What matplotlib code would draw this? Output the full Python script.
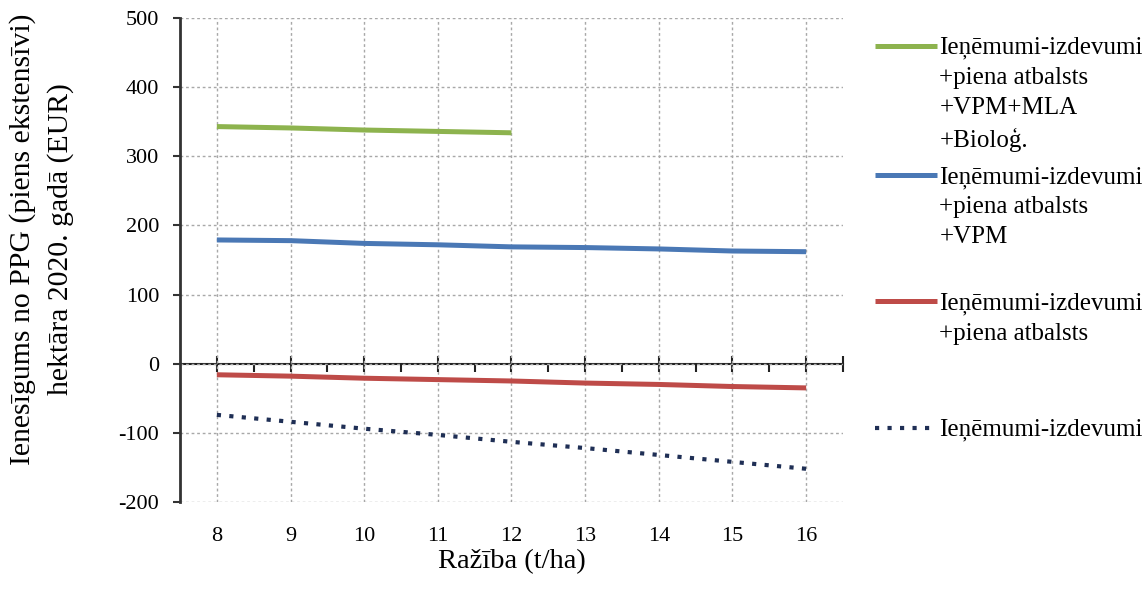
import matplotlib
matplotlib.use("Agg")
import matplotlib.pyplot as plt
from matplotlib.ticker import FixedLocator

# ---- data ----
yield_t = [8, 9, 10, 11, 12, 13, 14, 15, 16]
green_x = [8, 9, 10, 11, 12]
green_vals = [343, 341, 338, 336, 334]
blue_vals = [179, 178, 174, 172, 169, 168, 166, 163, 162]
red_vals = [-16, -18, -21, -23, -25, -28, -30, -33, -35]
dotted_vals = [-74, -84, -94, -103, -113, -122, -132, -142, -152]

labels = [
    "Ieņēmumi-izdevumi\n+piena atbalsts\n+VPM+MLA\n+Bioloģ.",
    "Ieņēmumi-izdevumi\n+piena atbalsts\n+VPM\n ",
    "Ieņēmumi-izdevumi\n+piena atbalsts\n \n ",
    "Ieņēmumi-izdevumi\n \n \n ",
]
y_ticks = [-200, -100, 0, 100, 200, 300, 400, 500]
x_label = "Ražība (t/ha)"
y_label = "Ienesīgums no PPG (piens ekstensīvi)\nhektāra 2020. gadā (EUR)"

plt.rcParams['font.family'] = ['Liberation Serif', 'DejaVu Serif']

fig = plt.figure(figsize=(11.48, 5.93), dpi=100)
ax = fig.add_axes([0.1568, 0.1535, 0.5775, 0.8161])

l1, = ax.plot(green_x, green_vals, color='#8DB34E', lw=3.6, solid_capstyle='butt')
l2, = ax.plot(yield_t, blue_vals, color='#4A78B5', lw=3.6, solid_capstyle='butt')
l3, = ax.plot(yield_t, red_vals, color='#BE4B48', lw=3.6, solid_capstyle='butt')
l4, = ax.plot(yield_t, dotted_vals, color='#1F2F55', lw=3.0, linestyle=(0, (1, 2.0)))

ax.set_xlim(7.5, 16.5)
ax.set_ylim(-200, 500)
ax.set_yticks(y_ticks)
ax.set_yticklabels([str(v) for v in y_ticks], fontsize=16)
ax.set_xticks(yield_t)
ax.set_xticklabels([str(v) for v in yield_t], fontsize=16)
ax.tick_params(axis='x', length=0, pad=18)
ax.tick_params(axis='y', direction='out', length=5, width=1.5, pad=10, color='#333333')

for s in ['top', 'right', 'bottom']:
    ax.spines[s].set_visible(False)
ax.spines['left'].set_linewidth(2.0)
ax.spines['left'].set_color('#333333')

ax.grid(True, color='#a8a8a8', linestyle=(0, (2, 2)), linewidth=1.0)
ax.set_axisbelow(True)

# zero axis with ticks
sec = ax.secondary_xaxis(200 / 700)
sec.spines['bottom'].set_linewidth(1.5)
sec.spines['bottom'].set_color('#222222')
sec.xaxis.set_major_locator(FixedLocator(yield_t + [16.5]))
sec.xaxis.set_minor_locator(FixedLocator([v + 0.5 for v in yield_t[:-1]]))
sec.tick_params(which='major', direction='inout', length=12, width=1.5, labelbottom=False, color='#222222')
sec.tick_params(which='minor', direction='out', length=6, width=1.5, color='#222222')

ax.set_xlabel(x_label, fontsize=20.5)
ax.xaxis.set_label_coords(0.5, -0.124)
ax.xaxis.label.set_va('center')
ax.set_ylabel(y_label, fontsize=21.4, linespacing=1.53)
ax.yaxis.set_label_coords(-0.209, 0.543)
ax.yaxis.label.set_va('center')

leg = ax.legend([l1, l2, l3, l4], labels, loc='upper left',
                bbox_to_anchor=(0.762, 0.938), bbox_transform=fig.transFigure,
                frameon=False, fontsize=18, handlelength=2.5, handletextpad=0.08,
                handleheight=0.78, labelspacing=0.56, borderpad=0, borderaxespad=0)
for t in leg.get_texts():
    t.set_linespacing(1.464)
for col in leg._legend_handle_box.get_children():
    for item in col.get_children():
        item.align = 'top'

fig.savefig('out.png', dpi=100)
